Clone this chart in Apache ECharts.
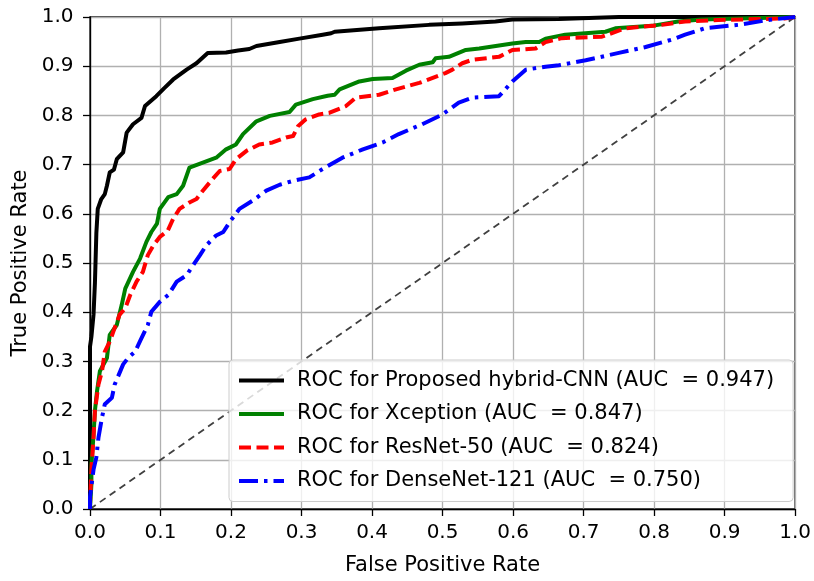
<!DOCTYPE html>
<html>
<head>
<meta charset="utf-8">
<script src="https://cdn.jsdelivr.net/npm/echarts@6/dist/echarts.min.js"></script>
<style>
html,body{margin:0;padding:0;background:#fff;}
#chart{width:814px;height:581px;}
</style>
</head>
<body>
<div id="chart"></div>
<script>
// ---- data ----
const xTicks = [0.0,0.1,0.2,0.3,0.4,0.5,0.6,0.7,0.8,0.9,1.0];
const yTicks = [0.0,0.1,0.2,0.3,0.4,0.5,0.6,0.7,0.8,0.9,1.0];

const seriesNames = [
  'ROC for Proposed hybrid-CNN (AUC  = 0.947)',
  'ROC for Xception (AUC  = 0.847)',
  'ROC for ResNet-50 (AUC  = 0.824)',
  'ROC for DenseNet-121 (AUC  = 0.750)'
];

const rocHybrid = [
  [0,0],[0,0.33],[0.002,0.35],[0.005,0.395],[0.007,0.46],[0.009,0.56],[0.011,0.61],[0.016,0.63],[0.021,0.64],
  [0.024,0.657],[0.028,0.684],[0.034,0.69],[0.038,0.711],[0.047,0.725],[0.052,0.765],[0.061,0.782],[0.073,0.795],
  [0.078,0.819],[0.094,0.839],[0.105,0.855],[0.118,0.873],[0.137,0.893],[0.151,0.906],[0.167,0.927],[0.193,0.928],
  [0.21,0.932],[0.226,0.935],[0.236,0.941],[0.269,0.949],[0.297,0.956],[0.33,0.964],[0.342,0.967],[0.347,0.970],
  [0.41,0.977],[0.481,0.984],[0.528,0.987],[0.575,0.991],[0.599,0.995],[0.665,0.996],[0.75,1.0],[1,1]
];

const rocXception = [
  [0,0],[0.002,0.05],[0.002,0.09],[0.005,0.15],[0.007,0.2],[0.01,0.24],[0.014,0.28],[0.024,0.307],[0.028,0.354],
  [0.038,0.374],[0.045,0.415],[0.05,0.448],[0.061,0.482],[0.071,0.509],[0.08,0.543],[0.087,0.563],[0.095,0.58],
  [0.099,0.61],[0.111,0.634],[0.123,0.64],[0.132,0.657],[0.141,0.694],[0.16,0.704],[0.179,0.714],[0.193,0.731],
  [0.207,0.741],[0.217,0.762],[0.236,0.788],[0.255,0.799],[0.283,0.807],[0.292,0.822],[0.316,0.833],[0.337,0.84],
  [0.347,0.842],[0.354,0.853],[0.382,0.869],[0.401,0.874],[0.429,0.876],[0.448,0.891],[0.467,0.903],[0.486,0.908],
  [0.49,0.916],[0.509,0.919],[0.533,0.933],[0.552,0.936],[0.599,0.946],[0.618,0.949],[0.637,0.949],[0.646,0.956],
  [0.674,0.964],[0.731,0.97],[0.745,0.977],[0.797,0.982],[0.834,0.991],[0.867,0.995],[0.95,0.998],[1,1]
];

const rocResNet = [
  [0,0],[0,0.01],[0.002,0.08],[0.005,0.145],[0.007,0.2],[0.012,0.253],[0.017,0.28],[0.021,0.32],[0.028,0.34],
  [0.035,0.368],[0.042,0.395],[0.05,0.408],[0.057,0.435],[0.066,0.462],[0.075,0.482],[0.082,0.516],[0.09,0.536],
  [0.099,0.553],[0.11,0.565],[0.118,0.59],[0.127,0.61],[0.141,0.623],[0.151,0.63],[0.16,0.647],[0.174,0.671],
  [0.184,0.687],[0.198,0.691],[0.207,0.711],[0.222,0.728],[0.24,0.741],[0.259,0.745],[0.278,0.755],[0.288,0.758],
  [0.295,0.778],[0.306,0.792],[0.325,0.802],[0.339,0.805],[0.363,0.819],[0.377,0.836],[0.41,0.842],[0.434,0.853],
  [0.467,0.866],[0.504,0.886],[0.514,0.893],[0.528,0.906],[0.542,0.913],[0.58,0.919],[0.599,0.933],[0.632,0.936],
  [0.646,0.949],[0.669,0.957],[0.726,0.96],[0.759,0.977],[0.811,0.984],[0.844,0.991],[0.891,0.994],[0.985,0.997],[1,1]
];

const rocDenseNet = [
  [0,0],[0,0.024],[0.005,0.08],[0.009,0.105],[0.012,0.145],[0.017,0.186],[0.021,0.213],[0.031,0.226],[0.035,0.253],
  [0.047,0.294],[0.054,0.307],[0.064,0.32],[0.071,0.341],[0.082,0.374],[0.087,0.401],[0.099,0.421],[0.111,0.435],
  [0.123,0.462],[0.137,0.475],[0.146,0.495],[0.156,0.516],[0.165,0.536],[0.179,0.556],[0.189,0.563],[0.198,0.583],
  [0.212,0.61],[0.231,0.627],[0.25,0.647],[0.269,0.659],[0.288,0.667],[0.311,0.674],[0.33,0.691],[0.358,0.714],
  [0.387,0.731],[0.415,0.745],[0.438,0.762],[0.471,0.782],[0.5,0.802],[0.523,0.826],[0.542,0.836],[0.58,0.839],
  [0.599,0.869],[0.618,0.893],[0.646,0.899],[0.665,0.902],[0.703,0.912],[0.75,0.927],[0.788,0.939],[0.825,0.954],
  [0.844,0.964],[0.872,0.977],[0.919,0.984],[0.962,0.994],[1,1]
];

const chanceLine = [[0,0],[1,1]];

// ---- chart ----
const FONT = 'DejaVu Sans';
const chart = echarts.init(document.getElementById('chart'), null, {renderer: 'canvas'});

function curve(name, data, color, type) {
  return {
    name: name, type: 'line', data: data, symbol: 'none', showSymbol: false,
    smooth: false, animation: false, clip: true,
    lineStyle: {color: color, width: 4, type: type, cap: 'butt', join: 'round'},
    itemStyle: {color: color},
    emphasis: {disabled: true}
  };
}

const option = {
  backgroundColor: '#ffffff',
  animation: false,
  textStyle: {fontFamily: FONT},
  grid: {
    left: 90, right: 17, top: 17, bottom: 69,
    show: true, borderColor: '#000', borderWidth: 1.3, backgroundColor: 'transparent'
  },
  xAxis: {
    type: 'value', min: xTicks[0], max: xTicks[xTicks.length - 1], interval: 0.1,
    name: 'False Positive Rate', nameLocation: 'middle', nameGap: 46,
    nameTextStyle: {fontSize: 21, color: '#000', fontFamily: FONT},
    axisLine: {show: true, onZero: false, lineStyle: {color: '#000', width: 1.3}},
    axisTick: {show: true, inside: false, length: 7, lineStyle: {color: '#000', width: 1.3}},
    axisLabel: {fontSize: 20, color: '#000', margin: 14, fontFamily: FONT,
      formatter: v => v.toFixed(1)},
    splitLine: {show: true, lineStyle: {color: '#b0b0b0', width: 1.3}}
  },
  yAxis: {
    type: 'value', min: yTicks[0], max: yTicks[yTicks.length - 1], interval: 0.1,
    name: 'True Positive Rate', nameLocation: 'middle', nameGap: 55,
    nameTextStyle: {fontSize: 21, color: '#000', fontFamily: FONT},
    axisLine: {show: true, onZero: false, lineStyle: {color: '#000', width: 1.3}},
    axisTick: {show: true, inside: false, length: 7, lineStyle: {color: '#000', width: 1.3}},
    axisLabel: {fontSize: 20, color: '#000', margin: 16.5, fontFamily: FONT,
      formatter: v => v.toFixed(1)},
    splitLine: {show: true, lineStyle: {color: '#b0b0b0', width: 1.3}}
  },
  legend: {
    data: seriesNames,
    orient: 'vertical',
    left: 229, top: 360,
    itemWidth: 45, itemHeight: 14, itemGap: 12.5,
    padding: [10, 19, 10, 8],
    backgroundColor: 'rgba(255,255,255,0.8)',
    borderColor: '#cccccc', borderWidth: 1, borderRadius: 4,
    itemStyle: {opacity: 0, borderWidth: 0},
    lineStyle: {width: 4},
    textStyle: {fontSize: 21, color: '#000', fontFamily: FONT, padding: [0,0,0,8]},
    selectedMode: false
  },
  series: [
    curve(seriesNames[0], rocHybrid, '#000000', 'solid'),
    curve(seriesNames[1], rocXception, '#008000', 'solid'),
    curve(seriesNames[2], rocResNet, '#ff0000', [12, 5.5]),
    curve(seriesNames[3], rocDenseNet, '#0000ff', [19, 6, 3.5, 6]),
    {
      name: 'chance', type: 'line', data: chanceLine, symbol: 'none', animation: false,
      lineStyle: {color: '#404040', width: 1.8, type: [7, 5]},
      emphasis: {disabled: true}, z: 1
    }
  ]
};
chart.setOption(option);
</script>
</body>
</html>
